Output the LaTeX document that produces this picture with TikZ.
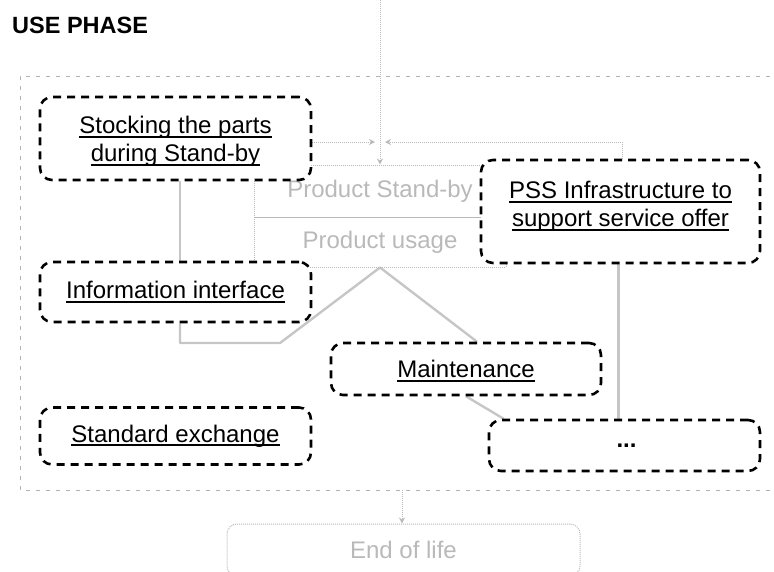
\documentclass[tikz,border=0pt]{standalone}
\usepackage{fontspec}
\setmainfont{Liberation Sans}
\usetikzlibrary{arrows.meta,backgrounds}
\newcommand\myul[1]{\setbox0\hbox{#1}\rlap{\rule[-4pt]{\wd0}{1.8pt}}\box0}
\tikzset{
  dbox/.style={draw=black, line width=2.6pt, dash pattern=on 8pt off 6pt,
    rounded corners=12pt, fill=white, inner sep=0pt},
  lbl/.style={align=center, inner sep=0pt, font=\fontsize{24}{28}\selectfont},
  gbox/.style={draw=gray!55, line width=1pt, densely dotted, inner sep=0pt,
    text=gray!55, font=\fontsize{24}{28}\selectfont},
  gline/.style={draw=gray!55, line width=1pt, densely dotted},
  gthick/.style={draw=gray!45, line width=2.4pt},
  gtip/.style={-{Stealth[length=6pt,width=6pt,open]}},
  frame/.style={draw=gray!60, line width=0.6pt, dash pattern=on 4pt off 6pt},
}
\begin{document}
\begin{tikzpicture}[x=1pt,y=-1pt]
\useasboundingbox (0,0) rectangle (774,571);
% header
\node[anchor=west, font=\fontsize{23.5}{28}\selectfont\bfseries, inner sep=0pt] (hdr) at (12,25) {USE PHASE};
% outer frame
\draw[frame] (780,76) -- (20,76) -- (20,490) -- (780,490);
% grey background boxes
\node[gbox, minimum width=252pt, minimum height=52pt] (stand) at (380,191) {Product Stand-by};
\node[gbox, minimum width=252pt, minimum height=50pt] (usage) at (380,242) {Product usage};
\node[gbox, rounded corners=10pt, minimum width=353pt, minimum height=52pt] (eol) at (403.5,550) {End of life};
% coordinates
\coordinate (top) at (380,0);
\coordinate (j) at (380,142);
\coordinate (fb) at (402,490);
\coordinate (bend) at (280,343);
% black dashed boxes
\node[dbox, minimum width=271pt, minimum height=83pt] (stock) at (175.5,138.5) {};
\node[lbl] (stockT) at ([yshift=-3pt]stock.center) {\myul{Stocking the parts}\\\myul{during Stand-by}};
\node[dbox, minimum width=279pt, minimum height=103pt] (pss) at (620.5,211.5) {};
\node[lbl] (pssT) at ([yshift=5pt]pss.center) {\myul{PSS Infrastructure to}\\\myul{support service offer}};
\node[dbox, minimum width=271pt, minimum height=60pt] (info) at (175.5,292) {};
\node[lbl] (infoT) at (info.center) {\myul{Information interface}};
\node[dbox, minimum width=270pt, minimum height=52pt] (maint) at (466,369) {};
\node[lbl] (maintT) at ([yshift=-2pt]maint.center) {\myul{Maintenance}};
\node[dbox, minimum width=271pt, minimum height=57pt] (std) at (175.5,436) {};
\node[lbl] (stdT) at (std.center) {\myul{Standard exchange}};
\node[dbox, minimum width=271pt, minimum height=51pt] (dots) at (624.5,445.5) {};
\node[lbl] (dotsT) at ([xshift=2pt]dots.center) {\textbf{...}};
% grey connectors (drawn behind boxes)
\begin{scope}[on background layer]
  \draw[gline, gtip] (top) -- (stand.north);
  \draw[gline, gtip] (stock.east |- j) -- ([xshift=-5pt]j);
  \draw[gline, gtip] ([xshift=1.5pt]pss.north) |- ([xshift=5pt]j);
  \draw[gthick] ([xshift=4.5pt]stock.south) -- ([xshift=4.5pt]info.north);
  \draw[gthick, line join=round] ([xshift=4.5pt]info.south) |- (bend) -- (usage.south) -- ([xshift=11pt]maint.north);
  \draw[gthick] ([xshift=-2pt]pss.south) -- ([xshift=-2pt]pss.south |- dots.north);
  \draw[gthick] (maint.south) -- ([xshift=-121pt]dots.north);
  \draw[gline, gtip] (fb) -- (fb |- eol.north);
\end{scope}
\end{tikzpicture}
\end{document}
